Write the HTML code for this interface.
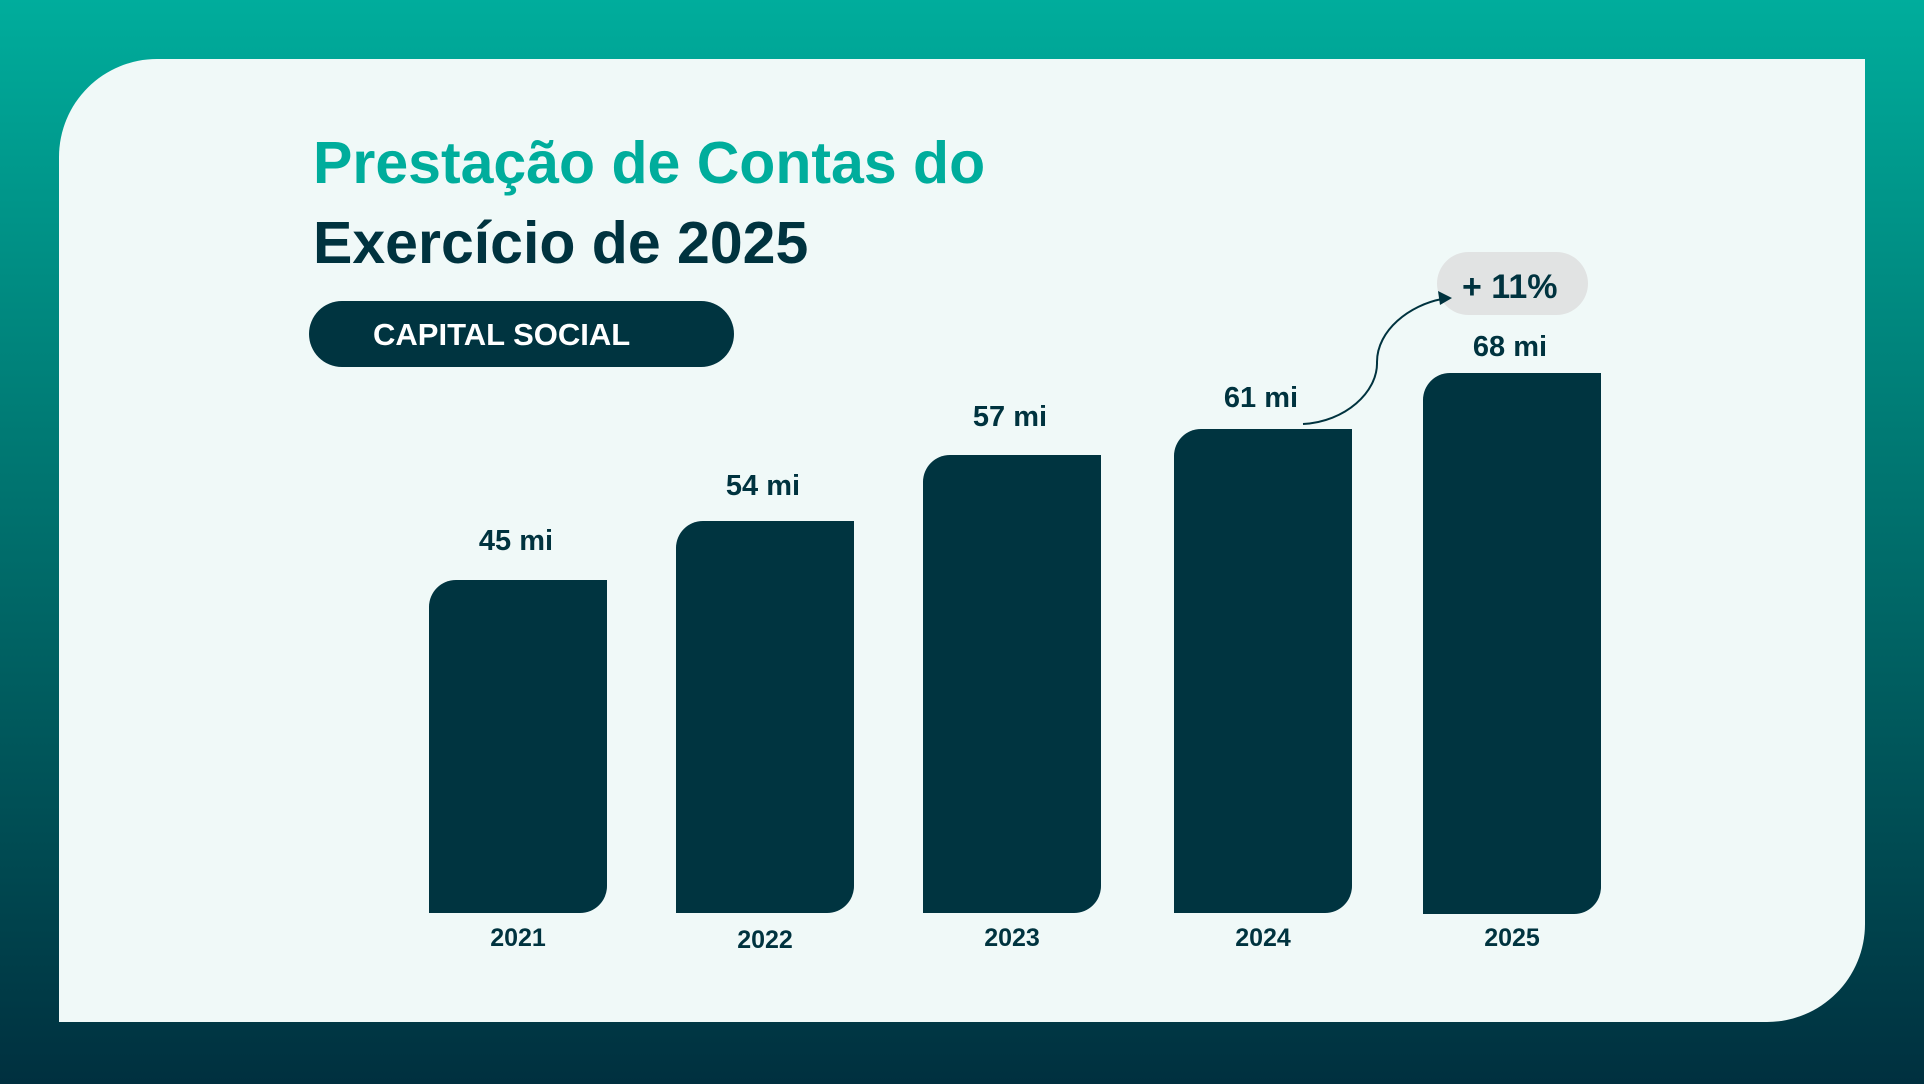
<!DOCTYPE html>
<html><head><meta charset="utf-8"><style>
*{margin:0;padding:0;box-sizing:border-box}
body{width:1924px;height:1084px;overflow:hidden;background:linear-gradient(180deg,#00ad9c 0%,#007a74 40%,#00303f 100%);position:relative;font-family:"Liberation Sans",sans-serif;font-weight:bold}
.panel{position:absolute;left:59px;top:59px;width:1806px;height:963px;background:#f0f9f8;border-radius:98px 0 98px 0}
.t{position:absolute;white-space:nowrap}
.bar{position:absolute;background:#003440;border-radius:27px 0 27px 0;width:178px}
.v{position:absolute;width:178px;text-align:center;color:#00333f;font-size:29px}
.y{position:absolute;width:178px;text-align:center;color:#00333f;font-size:25px}
</style></head><body>
<div class="panel"></div>
<div class="t" style="left:313px;top:129px;font-size:59px;color:#00ad9c">Prestação de Contas do</div>
<div class="t" style="left:313px;top:209px;font-size:59px;color:#00333f">Exercício de 2025</div>
<div style="position:absolute;left:309px;top:301px;width:425px;height:66px;background:#003440;border-radius:33px"></div>
<div class="t" style="left:373px;top:317px;font-size:31px;color:#fff">CAPITAL SOCIAL</div>

<div class="bar" style="left:429px;top:580px;height:333px"></div>
<div class="bar" style="left:676px;top:521px;height:392px"></div>
<div class="bar" style="left:923px;top:455px;height:458px"></div>
<div class="bar" style="left:1174px;top:429px;height:484px"></div>
<div class="bar" style="left:1423px;top:373px;height:541px"></div>

<div class="v" style="left:427px;top:525px">45 mi</div>
<div class="v" style="left:674px;top:470px">54 mi</div>
<div class="v" style="left:921px;top:401px">57 mi</div>
<div class="v" style="left:1172px;top:382px">61 mi</div>
<div class="v" style="left:1421px;top:331px">68 mi</div>

<div class="y" style="left:429px;top:924px">2021</div>
<div class="y" style="left:676px;top:926px">2022</div>
<div class="y" style="left:923px;top:924px">2023</div>
<div class="y" style="left:1174px;top:924px">2024</div>
<div class="y" style="left:1423px;top:924px">2025</div>

<div style="position:absolute;left:1437px;top:252px;width:151px;height:63px;background:#e1e3e3;border-radius:32px"></div>
<div class="t" style="left:1462px;top:268px;font-size:34px;color:#00333f">+ 11%</div>
<svg style="position:absolute;left:0;top:0" width="1924" height="1084">
<path d="M1303,424 C1345,422 1378,392 1377,362 C1377,330 1410,305 1442,299" fill="none" stroke="#00333f" stroke-width="2"/>
<polygon points="1452,298 1438,291 1440,305" fill="#00333f"/>
</svg>
</body></html>
